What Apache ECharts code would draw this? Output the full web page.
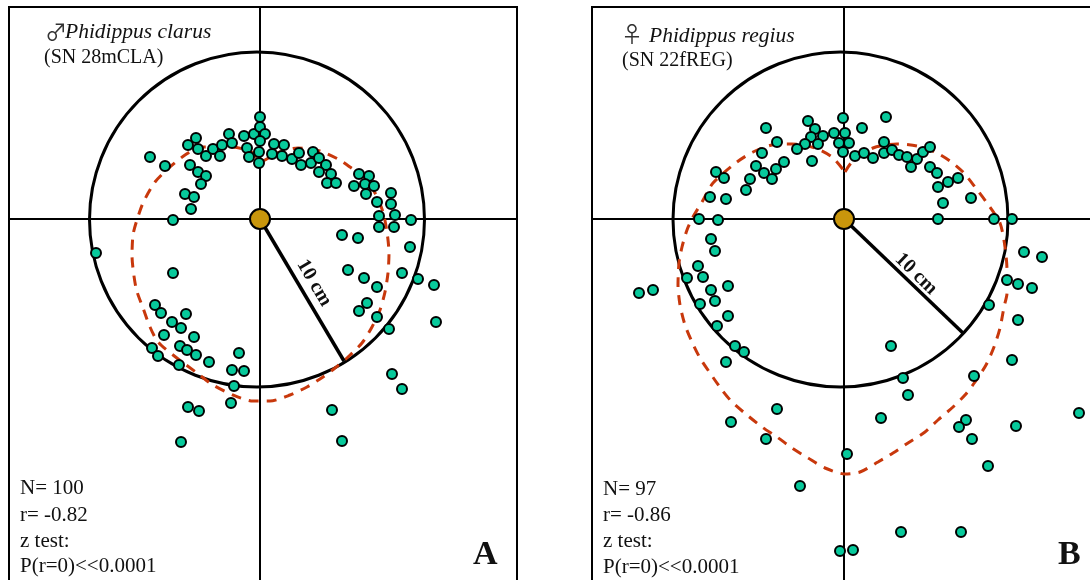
<!DOCTYPE html>
<html><head><meta charset="utf-8">
<style>html,body{margin:0;padding:0;background:#fff}#c{width:1090px;height:580px}</style>
<script src="https://cdn.jsdelivr.net/npm/echarts@6/dist/echarts.min.js"></script>
</head><body><div id="c"></div>
<script>
// Readings from the picture, relative to the origin (gold dot). 167.5 units = 10 cm.
const RADIUS = 167.5;
const pointsA = [[-110,62],[-95,53],[-72,74],[-64,81],[-62,70],[-54,63],[-47,70],[-40,63],[-38,74],[-31,85],[-28,76],[-16,83],[-13,71],[-11,62],[-6,85],[0,102],[0,92],[5,85],[0,78],[-1,67],[-1,56],[12,65],[-70,54],[-62,47],[-54,43],[-59,35],[-75,25],[-66,22],[-69,10],[-87,-1],[14,75],[24,74],[22,63],[32,60],[39,66],[41,54],[51,56],[53,67],[59,61],[66,54],[59,47],[71,45],[67,36],[76,36],[99,45],[109,43],[94,33],[105,35],[114,33],[106,25],[117,17],[131,26],[131,15],[135,4],[119,3],[151,-1],[119,-8],[134,-8],[82,-16],[98,-19],[150,-28],[88,-51],[104,-59],[117,-68],[142,-54],[158,-60],[174,-66],[107,-84],[99,-92],[117,-98],[129,-110],[176,-103],[132,-155],[142,-170],[72,-191],[82,-222],[-164,-34],[-87,-54],[-105,-86],[-99,-94],[-74,-95],[-88,-103],[-79,-109],[-66,-118],[-96,-116],[-80,-127],[-73,-131],[-64,-136],[-108,-129],[-102,-137],[-81,-146],[-51,-143],[-21,-134],[-28,-151],[-16,-152],[-26,-167],[-29,-184],[-72,-188],[-61,-192],[-79,-223]];
const curveA = [[0,56],[5,59],[20,67],[38,71],[60,68],[78,60],[90,52],[105,41],[115,26],[123,7],[127,-13],[129,-34],[128,-54],[125,-73],[120,-91],[112,-108],[102,-124],[88,-138],[75,-149],[63,-158],[47,-168],[30,-176],[10,-182],[-7,-182],[-27,-176],[-47,-166],[-63,-154],[-87,-136],[-102,-123],[-110,-108],[-117,-89],[-124,-69],[-128,-36],[-127,-16],[-124,-4],[-117,16],[-105,37],[-90,52],[-75,64],[-60,72],[-27,72],[-7,66],[0,56]];
const radialA = [[0,0],[84,-142]];
const circleCentreA = [-3,-0.5];
const pointsB = [[-36,98],[-78,91],[-29,90],[-33,82],[-21,83],[-10,86],[-1,101],[1,86],[-5,76],[5,76],[-1,67],[-26,75],[-39,75],[-47,70],[-32,58],[-67,77],[-82,66],[-60,57],[-68,50],[-88,53],[-80,46],[-72,40],[-94,40],[-98,29],[-128,47],[-120,41],[-134,22],[-118,20],[-145,0],[-126,-1],[42,102],[18,91],[11,63],[20,66],[29,61],[40,77],[40,66],[48,69],[55,64],[63,62],[73,60],[67,52],[79,67],[86,72],[86,52],[93,46],[114,41],[104,37],[94,32],[99,16],[127,21],[94,0],[150,0],[168,0],[180,-33],[198,-38],[163,-61],[174,-65],[188,-69],[145,-86],[174,-101],[168,-141],[130,-157],[47,-127],[59,-159],[64,-176],[37,-199],[122,-201],[115,-208],[128,-220],[172,-207],[235,-194],[144,-247],[3,-235],[57,-313],[117,-313],[9,-331],[-4,-332],[-133,-20],[-129,-32],[-146,-47],[-141,-58],[-157,-59],[-116,-67],[-133,-71],[-191,-71],[-205,-74],[-129,-82],[-144,-85],[-116,-97],[-127,-107],[-109,-127],[-100,-133],[-118,-143],[-67,-190],[-113,-203],[-78,-220],[-44,-267]];
const curveB = [[1,47],[8,57],[29,71],[53,75],[73,73],[91,67],[106,58],[119,47],[131,32],[143,16],[156,-4],[161,-28],[163,-51],[163,-74],[160,-88],[156,-109],[150,-128],[142,-146],[131,-163],[121,-176],[109,-188],[94,-201],[81,-213],[64,-224],[49,-234],[34,-243],[16,-253],[1,-255],[-19,-249],[-36,-239],[-52,-229],[-67,-218],[-82,-208],[-97,-196],[-112,-183],[-122,-171],[-134,-154],[-144,-139],[-152,-123],[-159,-106],[-164,-86],[-166,-66],[-165,-44],[-162,-28],[-157,-11],[-151,2],[-142,17],[-131,36],[-107,57],[-91,67],[-72,74],[-52,75],[-29,71],[-12,62],[1,47]];
const radialB = [[0,0],[120,-115]];
const circleCentreB = [-3.5,-0.5];
const origin = [[0,0]];

const serif = '"Liberation Serif","DejaVu Serif",serif';
const CURVE = '#c8380c', DOT = '#07c99b', GOLD = '#c9960c';

function axis(min,max,idx){
  return {type:'value',gridIndex:idx,min,max,splitLine:{show:false},axisTick:{show:false},axisLabel:{show:false},
    axisLine:{show:true,onZero:true,lineStyle:{color:'#000',width:2}},silent:true};
}
function panel(idx,pts,curve,radial,centre){
  return [
    {type:'custom',xAxisIndex:idx,yAxisIndex:idx,z:2,silent:true,data:[[centre[0],centre[1],RADIUS]],
      encode:{x:0,y:1},clip:false,
      renderItem(p,api){
        const c=api.coord([api.value(0),api.value(1)]);
        const r=api.size([api.value(2),0])[0];
        return {type:'circle',shape:{cx:c[0],cy:c[1],r},style:{fill:null,stroke:'#000',lineWidth:3}};
      }},
    {type:'line',xAxisIndex:idx,yAxisIndex:idx,z:3,data:curve,smooth:0.25,showSymbol:false,silent:true,
      lineStyle:{color:CURVE,width:3,type:[10,8]}},
    {type:'line',xAxisIndex:idx,yAxisIndex:idx,z:4,data:radial,showSymbol:false,silent:true,
      lineStyle:{color:'#000',width:3.5}},
    {type:'scatter',xAxisIndex:idx,yAxisIndex:idx,z:5,data:pts,symbolSize:10,silent:true,
      itemStyle:{color:DOT,borderColor:'#000',borderWidth:2,opacity:1}},
    {type:'scatter',xAxisIndex:idx,yAxisIndex:idx,z:6,data:origin,symbolSize:20,silent:true,
      itemStyle:{color:GOLD,borderColor:'#000',borderWidth:2,opacity:1}}
  ];
}
function txt(x,y,text,o){
  o=o||{};
  return {type:'text',x,y,rotation:o.rot||0,z:20,silent:true,
    style:{text,fill:o.fill||'#111',font:(o.font||'21px '+serif),textAlign:o.align||'left',textVerticalAlign:'middle'}};
}
const italic='italic 21.5px '+serif;
const sn='20px '+serif;
const sign='22px "Noto Sans CJK SC"';
const big='bold 34px '+serif;
const cm='bold 20px '+serif;
const graphic=[
  txt(45,32,'\u2642',{font:sign,fill:'#333'}),
  txt(65,32,'Phidippus clarus',{font:italic}),
  txt(44,58,'(SN 28mCLA)',{font:sn}),
  txt(20,488,'N= 100'),txt(20,515,'r= -0.82'),txt(20,541,'z test:'),txt(20,566,'P(r=0)<<0.0001'),
  txt(473,555,'A',{font:big}),
  txt(314,283,'10 cm',{font:cm,align:'center',rot:-1.04}),
  txt(621,34,'\u2640',{font:sign,fill:'#333'}),
  txt(649,36,'Phidippus regius',{font:italic}),
  txt(622,61,'(SN 22fREG)',{font:sn}),
  txt(603,489,'N= 97'),txt(603,515,'r= -0.86'),txt(603,541,'z test:'),txt(603,567,'P(r=0)<<0.0001'),
  txt(1058,555,'B',{font:big}),
  txt(916,274,'10 cm',{font:cm,align:'center',rot:-0.77})
];
const chart=echarts.init(document.getElementById('c'),null,{renderer:'canvas'});
chart.setOption({
  animation:false,backgroundColor:'#fff',
  grid:[
    {left:9,top:7,width:508,height:575,outerBoundsMode:'none',show:true,borderColor:'#000',borderWidth:2,backgroundColor:'transparent'},
    {left:592,top:7,width:500,height:575,outerBoundsMode:'none',show:true,borderColor:'#000',borderWidth:2,backgroundColor:'transparent'}
  ],
  xAxis:[axis(-251,257,0),axis(-252,248,1)],
  yAxis:[axis(-363,212,0),axis(-363,212,1)],
  series:[...panel(0,pointsA,curveA,radialA,circleCentreA),...panel(1,pointsB,curveB,radialB,circleCentreB)],
  graphic
});
</script></body></html>
